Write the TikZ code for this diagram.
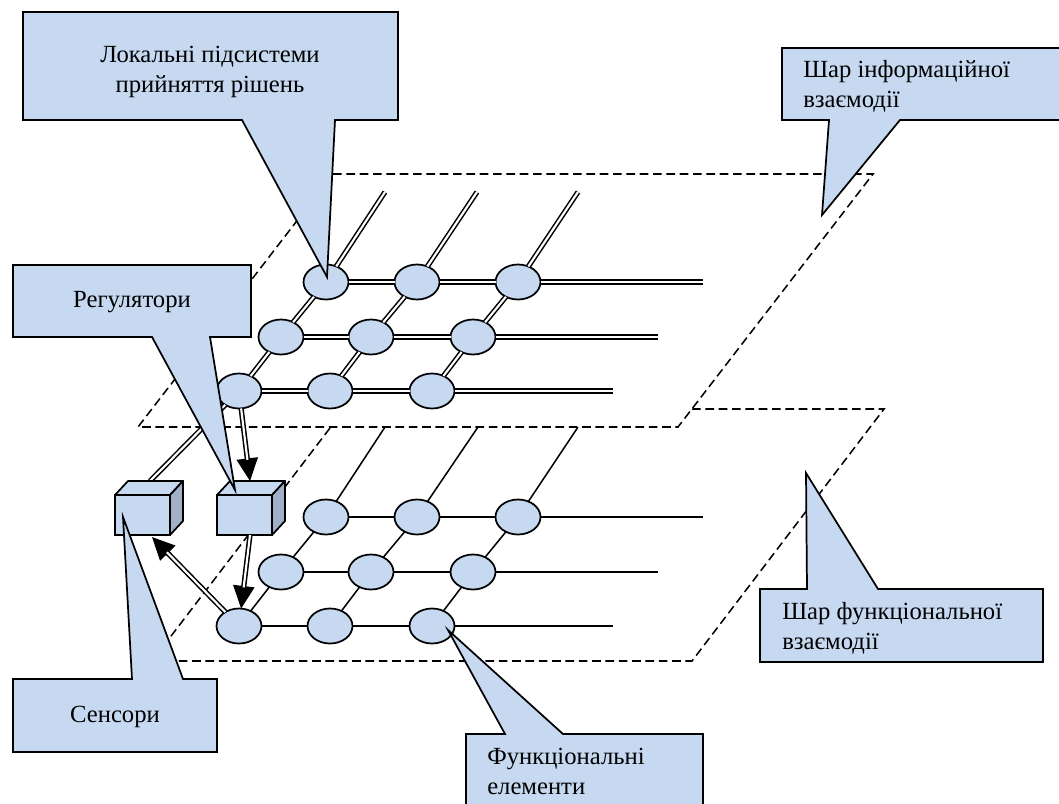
\documentclass[tikz,border=0pt]{standalone}
\usepackage{fontspec}
\setmainfont{Liberation Serif}
\usetikzlibrary{shapes.geometric,arrows.meta}
\definecolor{callblue}{RGB}{198,217,241}
\definecolor{sideblue}{RGB}{161,176,199}
\tikzset{
	elem/.style={ellipse, draw, line width=1.3pt, fill=callblue, inner sep=0pt, outer sep=0pt, minimum width=33.75pt, minimum height=26.25pt},
	dbl/.style={line width=1.15pt, double=white, double distance=1.6pt},
	sgl/.style={line width=1.15pt},
	plane/.style={line width=1.15pt, dash pattern={on 6.5pt off 3.5pt}},
	callshape/.style={draw, line width=1.3pt, fill=callblue, line join=miter},
	bigtip/.style={line width=1.15pt, -{Triangle[length=17pt,width=16pt]}},
	front/.style={rectangle, draw, line width=1.3pt, fill=callblue, inner sep=0pt, outer sep=0pt, minimum width=41.25pt, minimum height=30pt},
	face/.style={draw, line width=1.3pt, fill=callblue, line join=round},
	side/.style={draw, line width=1.3pt, fill=sideblue, line join=round},
	lbl/.style={font=\fontsize{18.5}{22.5}\selectfont, inner sep=0pt}
}
\begin{document}
\begin{tikzpicture}[x=0.75pt,y=0.75pt,yscale=-1,xscale=1]
	\clip (0,0) rectangle (1059,803);

	%Shape: lower plane
	\draw [plane] (692,409) -- (884,409) -- (692,661) -- (152,661) -- (330,428) ;

	% lower grid
	\node [elem] (l11) at (326,517) {};
	\node [elem] (l12) at (417,517) {};
	\node [elem] (l13) at (518,517) {};
	\node [elem] (l21) at (281,572) {};
	\node [elem] (l22) at (371,572) {};
	\node [elem] (l23) at (473,572) {};
	\node [elem] (l31) at (239,626) {};
	\node [elem] (l32) at (330,626) {};
	\node [elem] (l33) at (432,626) {};
	\coordinate (lt1) at (385,427);
	\coordinate (lt2) at (478,427);
	\coordinate (lt3) at (578,427);
	\coordinate (le1) at (703,517);
	\coordinate (le2) at (658,572);
	\coordinate (le3) at (613,626);
	\draw [sgl] (l11) -- (l12) -- (l13) -- (le1) ;
	\draw [sgl] (l21) -- (l22) -- (l23) -- (le2) ;
	\draw [sgl] (l31) -- (l32) -- (l33) -- (le3) ;
	\draw [sgl] (lt1) -- (l11) -- (l21) -- (l31) ;
	\draw [sgl] (lt2) -- (l12) -- (l22) -- (l32) ;
	\draw [sgl] (lt3) -- (l13) -- (l23) -- (l33) ;

	%Shape: upper plane
	\draw [plane, fill=white] (333,174) -- (873,174) -- (678,427) -- (138,427) -- cycle ;

	% upper grid
	\node [elem] (u11) at (326,282) {};
	\node [elem] (u12) at (417,282) {};
	\node [elem] (u13) at (518,282) {};
	\node [elem] (u21) at (281,337) {};
	\node [elem] (u22) at (371,337) {};
	\node [elem] (u23) at (473,337) {};
	\node [elem] (u31) at (239,391) {};
	\node [elem] (u32) at (330,391) {};
	\node [elem] (u33) at (432,391) {};
	\coordinate (ut1) at (385,192);
	\coordinate (ut2) at (477,192);
	\coordinate (ut3) at (578,192);
	\coordinate (ue1) at (703,282);
	\coordinate (ue2) at (658,337);
	\coordinate (ue3) at (613,391);
	\draw [dbl] (u11) -- (u12) -- (u13) -- (ue1) ;
	\draw [dbl] (u21) -- (u22) -- (u23) -- (ue2) ;
	\draw [dbl] (u31) -- (u32) -- (u33) -- (ue3) ;
	\draw [dbl] (ut1) -- (u11) -- (u21) -- (u31) ;
	\draw [dbl] (ut2) -- (u12) -- (u22) -- (u32) ;
	\draw [dbl] (ut3) -- (u13) -- (u23) -- (u33) ;

	% sensor and regulator cubes
	\coordinate (sentop) at (150,481);
	\draw [dbl] (u31) -- (sentop) ;
	\node [front] (sen) at (142.5,515) {};
	\draw [face] (sen.north west) -- ++(13,-14) -- ++(55,0) -- (sen.north east) -- cycle ;
	\draw [side] (sen.north east) -- ++(13,-14) -- ++(0,40) -- (sen.south east) -- cycle ;
	\node [front] (reg) at (244.5,515) {};
	\draw [face] (reg.north west) -- ++(13,-14) -- ++(55,0) -- (reg.north east) -- cycle ;
	\draw [side] (reg.north east) -- ++(13,-14) -- ++(0,40) -- (reg.south east) -- cycle ;

	% arrows
	\coordinate (regtop) at (250,481);
	\coordinate (regbot) at (250,535);
	\coordinate (senbot) at (152,537);
	\draw [bigtip] (u31) -- (regtop) ;
	\draw [dbl, shorten >=16pt] (u31) -- (regtop) ;
	\draw [bigtip] (regbot) -- (l31) ;
	\draw [dbl, shorten >=16pt] (regbot) -- (l31) ;
	\draw [bigtip] (l31) -- (senbot) ;
	\draw [dbl, shorten >=16pt] (l31) -- (senbot) ;

	%Shape: Callout
	\draw [callshape] (23,12) -- (398,12) -- (398,120) -- (335,120) -- (327,277) -- (242,120) -- (23,120) -- cycle ;
	%Shape: Callout
	\draw [callshape] (13,265) -- (251,265) -- (251,337) -- (210,337) -- (235,490) -- (152,337) -- (13,337) -- cycle ;
	%Shape: Callout
	\draw [callshape] (13,679) -- (132,679) -- (123,517) -- (183,679) -- (217,679) -- (217,752) -- (13,752) -- cycle ;
	%Shape: Callout
	\draw [callshape] (466,734) -- (505,734) -- (448,630) -- (563,734) -- (703,734) -- (703,812) -- (466,812) -- cycle ;
	%Shape: Callout
	\draw [callshape] (782,48) -- (1066,48) -- (1066,120) -- (900,120) -- (822,215) -- (829,120) -- (782,120) -- cycle ;
	%Shape: Callout
	\draw [callshape] (760,589) -- (807,589) -- (806,473) -- (878,589) -- (1043,589) -- (1043,662) -- (760,662) -- cycle ;

	% Text Node
	\node [lbl, align=center] (tlps) at (210,72) {Локальні підсистеми\\прийняття рішень};
	% Text Node
	\node [lbl] (treg) at (132,302) {Регулятори};
	% Text Node
	\node [lbl] (tsen) at (115,717) {Сенсори};
	% Text Node
	\node [lbl, align=left, anchor=west] (tfun) at (487,771) {Функціональні\\елементи};
	% Text Node
	\node [lbl, align=left, anchor=west] (tinf) at (803,86) {Шар інформаційної\\взаємодії};
	% Text Node
	\node [lbl, align=left, anchor=west] (tfl) at (782,628) {Шар функціональної\\взаємодії};
\end{tikzpicture}
\end{document}
